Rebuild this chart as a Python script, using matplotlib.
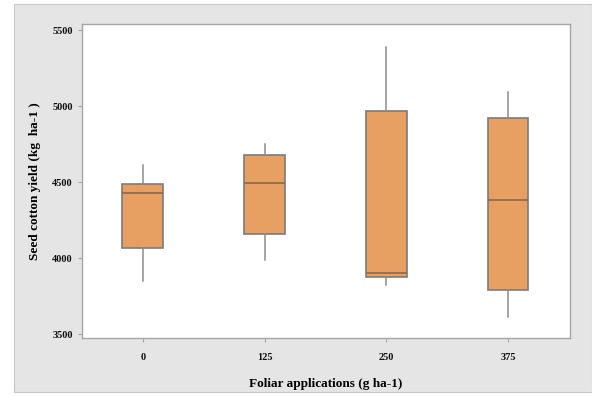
import matplotlib.pyplot as plt
from matplotlib.patches import Rectangle

# box statistics
categories = ["0", "125", "250", "375"]
whisker_low = [3849, 3987, 3820, 3610]
q1 = [4068, 4158, 3873, 3789]
median = [4425, 4491, 3899, 4383]
q3 = [4490, 4676, 4969, 4923]
whisker_high = [4612, 4750, 5390, 5092]
yticks = [3500, 4000, 4500, 5000, 5500]

plt.rcParams['font.family'] = ['Liberation Serif', 'DejaVu Serif']

fig = plt.figure(figsize=(5.92, 3.97), dpi=100)
fig.patch.set_facecolor('white')
# grey panel behind the plot
fig.patches.append(Rectangle((14 / 592, 5 / 397), 578 / 592, 388 / 397,
                             transform=fig.transFigure, facecolor='#e5e5e5',
                             edgecolor='#c8c8c8', linewidth=0.8, zorder=-1))

ax = fig.add_axes([82 / 592, 59 / 397, 488 / 592, 314 / 397])
ax.set_facecolor('white')

stats = []
for i in range(len(categories)):
    stats.append({
        'whislo': whisker_low[i], 'q1': q1[i], 'med': median[i],
        'q3': q3[i], 'whishi': whisker_high[i], 'fliers': [],
        'label': categories[i],
    })

ax.bxp(stats, positions=range(len(categories)), widths=0.335,
       patch_artist=True, showcaps=False,
       boxprops=dict(facecolor='#e8a062', edgecolor='#7b7b7b', linewidth=1.2),
       medianprops=dict(color='#8a6a4e', linewidth=1.2),
       whiskerprops=dict(color='#8c8c8c', linewidth=1.1))

ax.set_xlim(-0.5, 3.51)
ax.set_ylim(3474, 5540)
ax.set_yticks(yticks)
ax.set_yticklabels([str(t) for t in yticks])

for s in ax.spines.values():
    s.set_color('#a6a6a6')
    s.set_linewidth(1.0)
ax.tick_params(axis='both', colors='#a6a6a6', labelcolor='#111111',
               length=3, width=0.8, labelsize=7.5)
for lab in ax.get_xticklabels() + ax.get_yticklabels():
    lab.set_fontweight('bold')
ax.tick_params(axis='x', pad=8)

ax.set_xlabel('Foliar applications (g ha-1)', fontsize=9.5, fontweight='bold',
              color='#000000', labelpad=11)
ax.set_ylabel('Seed cotton yield (kg  ha-1 )', fontsize=9.5, fontweight='bold',
              color='#000000', labelpad=8)

fig.savefig('out.png', dpi=100)
